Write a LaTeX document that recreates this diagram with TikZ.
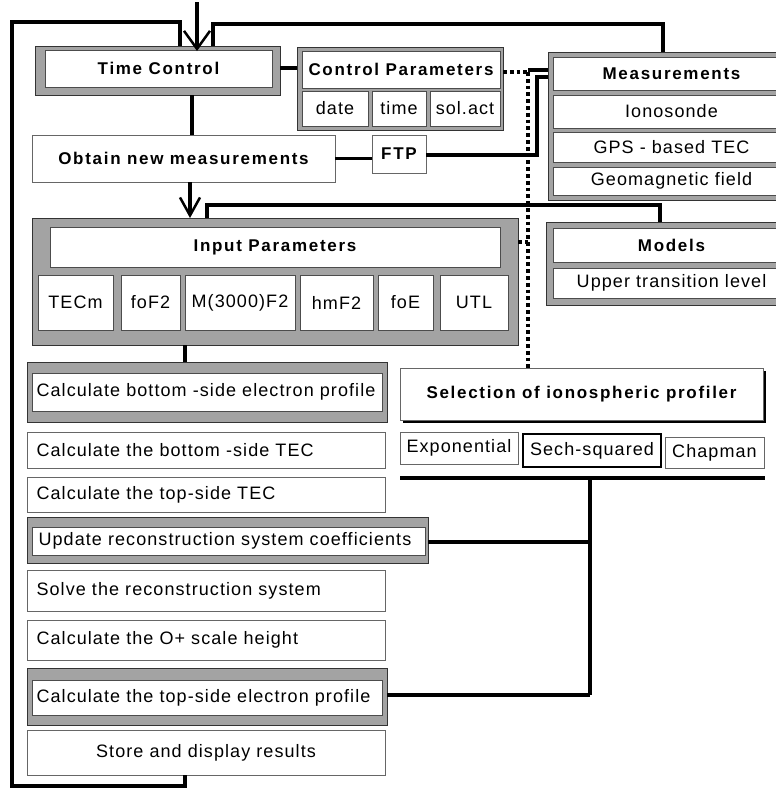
\documentclass[tikz,border=0pt]{standalone}
\usepackage{fontspec}
\setmainfont{Liberation Sans}
\newfontfamily\regf[LetterSpace=6]{Liberation Sans}
\newfontfamily\boldf[LetterSpace=10]{Liberation Sans}
\usetikzlibrary{arrows.meta,shadows}
\newcommand{\mybx}[7][thinbox]{\node[#1, anchor=north west, inner sep=0pt, outer sep=0pt, minimum width={#5-#3}, minimum height={#6-#4}] (#2) at (#3,#4) {#7};}
\tikzset{
  shadedbox/.style={draw=black!80, line width=0.8pt, fill=black!36},
  innerbox/.style={draw=black!70, line width=0.6pt, fill=white},
  thinbox/.style={draw=black!60, line width=0.8pt, fill=white},
  regtxt/.style={font=\regf\fontsize{18}{20}\selectfont},
  bldtxt/.style={font=\boldf\bfseries\fontsize{17}{20}\selectfont},
  conn/.style={line width=3.4pt, draw=black},
  dotline/.style={line width=3.8pt, draw=black, dash pattern=on 3.8pt off 3pt},
  selshadow/.style={drop shadow={shadow xshift=3pt, shadow yshift=-3pt, fill=black, opacity=1}},
  vtip/.style={-{Straight Barb[length=18pt,width=26pt,line width=2.5pt]}}
}
\begin{document}
\begin{tikzpicture}[x=1pt,y=-1pt]
\useasboundingbox (0,0) rectangle (776,788);
% --- top row
\mybx[shadedbox]{tco}{35}{46}{280}{95}{}
\mybx[innerbox,bldtxt]{tc}{45}{50}{272}{87}{Time Control}
\mybx[shadedbox]{cpo}{297}{47}{503}{130}{}
\mybx[innerbox,bldtxt]{cp}{302}{51}{500}{88}{Control Parameters}
\mybx[innerbox,regtxt]{cpd}{302}{91}{368}{126}{date}
\mybx[innerbox,regtxt]{cpt}{372}{91}{426}{126}{time}
\mybx[innerbox,regtxt]{cps}{430}{91}{500}{126}{sol.act}
\mybx[shadedbox]{meo}{548}{52}{790}{200}{}
\mybx[innerbox,bldtxt]{me}{553}{57}{790}{90}{Measurements}
\mybx[innerbox,regtxt]{me1}{553}{95}{790}{128}{Ionosonde}
\mybx[innerbox,regtxt]{me2}{553}{132}{790}{162}{GPS - based TEC}
\mybx[innerbox,regtxt]{me3}{553}{167}{790}{195}{Geomagnetic field}
\mybx[thinbox,bldtxt]{obt}{32}{135}{335}{182}{Obtain new measurements}
\mybx[thinbox,bldtxt]{ftp}{372}{135}{426}{173}{FTP}
% --- input parameters
\mybx[shadedbox]{inp}{32}{218}{518}{345}{}
\mybx[innerbox,bldtxt]{inpt}{50}{227}{500}{267}{Input Parameters}
\mybx[innerbox,regtxt]{ip1}{38}{275}{113}{330}{TECm}
\mybx[innerbox,regtxt]{ip2}{121}{275}{180}{330}{foF2}
\mybx[innerbox,regtxt]{ip3}{185}{275}{295}{330}{M(3000)F2}
\mybx[innerbox,regtxt]{ip4}{300}{275}{373}{330}{hmF2}
\mybx[innerbox,regtxt]{ip5}{378}{275}{433}{330}{foE}
\mybx[innerbox,regtxt]{ip6}{440}{275}{508}{330}{UTL}
\mybx[shadedbox]{moo}{546}{222}{790}{305}{}
\mybx[innerbox,bldtxt]{mo}{553}{228}{790}{262}{Models}
\mybx[innerbox,regtxt]{mo1}{553}{268}{790}{298}{Upper transition level}
% --- left column
\mybx[shadedbox]{b1o}{27}{362}{387}{422}{}
\mybx[innerbox]{b1}{32}{373}{382}{411}{}
\node[regtxt,anchor=west] (b1t) at ([xshift=1pt]b1.west) {Calculate bottom -side electron profile};
\mybx[thinbox]{b2}{27}{432}{385}{468}{}
\node[regtxt,anchor=west] (b2t) at ([xshift=6pt]b2.west) {Calculate the bottom -side TEC};
\mybx[thinbox]{b3}{27}{477}{385}{512}{}
\node[regtxt,anchor=west] (b3t) at ([xshift=6pt]b3.west) {Calculate the top-side TEC};
\mybx[shadedbox]{b4o}{27}{517}{428}{563}{}
\mybx[innerbox]{b4}{32}{527}{425}{555}{}
\node[regtxt,anchor=west] (b4t) at ([xshift=3pt]b4.west) {Update reconstruction system coefficients};
\mybx[thinbox]{b5}{27}{570}{385}{611}{}
\node[regtxt,anchor=west] (b5t) at ([xshift=6pt]b5.west) {Solve the reconstruction system};
\mybx[thinbox]{b6}{27}{620}{385}{660}{}
\node[regtxt,anchor=west] (b6t) at ([xshift=6pt]b6.west) {Calculate the O+ scale height};
\mybx[shadedbox]{b7o}{27}{668}{387}{725}{}
\mybx[innerbox]{b7}{32}{680}{382}{715}{}
\node[regtxt,anchor=west] (b7t) at ([xshift=1pt]b7.west) {Calculate the top-side electron profile};
\mybx[thinbox,regtxt]{b8}{27}{730}{385}{775}{Store and display results}
% --- profiler selection
\mybx[thinbox,bldtxt,selshadow]{sel}{400}{368}{763}{420}{Selection of ionospheric profiler}
\mybx[thinbox,regtxt]{pe}{400}{432}{518}{464}{Exponential}
\mybx[regtxt,draw=black,line width=2pt,fill=white]{ps}{523}{434}{661}{467}{Sech-squared}
\mybx[thinbox,regtxt]{pc}{665}{437}{764}{468}{Chapman}
% --- coordinates for connectors
\coordinate (xa) at (192,0);
\coordinate (xb) at (190,0);
\coordinate (xtop) at (197,2);
\coordinate (xl) at (180,0);
\coordinate (xr) at (213,0);
\coordinate (xm) at (663,0);
\coordinate (xi) at (207,0);
\coordinate (xmo) at (660,0);
\coordinate (xs) at (185,0);
\coordinate (xd) at (528,0);
\coordinate (xf) at (537,0);
\coordinate (xv) at (590,0);
\coordinate (y68) at (0,68);
\coordinate (y70) at (0,70);
\coordinate (y72) at (0,72);
\coordinate (y77) at (0,77);
\coordinate (y155) at (0,155);
\coordinate (y242) at (0,242);
\coordinate (y542) at (0,542);
\coordinate (y695) at (0,695);
\coordinate (lb) at (12,786);
\coordinate (lt) at (180,22);
\coordinate (rt) at (663,24);
\coordinate (it) at (660,205);
\coordinate (sl) at (400,478);
\coordinate (sr) at (765,478);
% --- connectors
\draw[conn,vtip] (xtop) -- ([yshift=-5pt]tco.north -| xtop);
\draw[conn] (b8.south -| xs) |- (lb) |- (lt) -- (tco.north -| xl);
\draw[conn] (tco.north -| xr) |- (rt) -- (meo.north -| xm);
\draw[conn] (tco.south -| xa) -- (obt.north -| xa);
\draw[conn,-{Straight Barb[length=18pt,width=20pt,line width=2.5pt]}] (obt.south -| xb) -- (inp.north -| xb);
\draw[conn] (inp.north -| xi) |- (it) -- (moo.north -| xmo);
\draw[conn] (inp.south -| xs) -- (b1o.north -| xs);
\draw[conn] (tco.east |- y68) -- (cpo.west |- y68);
\draw[conn] (obt.east) -- (obt.east -| ftp.west);
\draw[conn] (ftp.east |- y155) -- (xf |- y155) -- (xf |- y77) -- (meo.west |- y77);
\draw[dotline] (cpo.east |- y72) -- (xd |- y72);
\draw[conn] (xd |- y70) -- (meo.west |- y70);
\draw[dotline] (xd |- y72) -- (sel.north -| xd);
\draw[dotline] (inp.east |- y242) -- (xd |- y242);
\draw[conn] (sl) -- (sr);
\draw[conn] (xv |- sl) -- (xv |- y695);
\draw[conn] (b4o.east |- y542) -- (xv |- y542);
\draw[conn] (b7o.east |- y695) -- (xv |- y695);
\end{tikzpicture}
\end{document}
